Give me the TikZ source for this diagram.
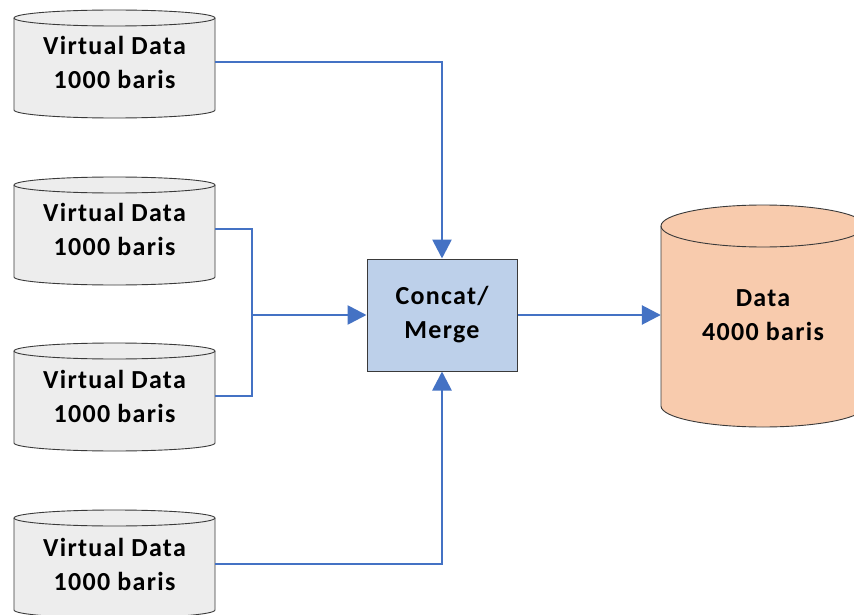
\documentclass[tikz,border=0pt]{standalone}
\usepackage{fontspec}
\setmainfont{Carlito}
\usetikzlibrary{arrows.meta}
\definecolor{flowblue}{HTML}{4472C4}
\definecolor{drumgray}{HTML}{EDEDED}
\definecolor{mergefill}{HTML}{BDD0EA}
\definecolor{resultfill}{HTML}{F8CBAD}
\definecolor{edgegray}{HTML}{3A3A3A}

% \drumbody{cx}{top centre y}{bottom centre y}{rx}{ry}{fill}
\newcommand\drumbody[6]{%
  \filldraw[fill=#6, draw=edgegray, line width=0.9pt]
    (#1-#4,#2) -- (#1-#4,#3)
    arc[start angle=180, end angle=0, x radius=#4, y radius=#5]
    -- (#1+#4,#2)
    arc[start angle=0, end angle=-180, x radius=#4, y radius=#5] -- cycle;
  \draw[draw=edgegray, line width=0.9pt]
    (#1-#4,#2) arc[start angle=180, end angle=0, x radius=#4, y radius=#5];
}

\begin{document}
\begin{tikzpicture}[x=1pt, y=-1pt,
  lbl/.style={font=\fontsize{26}{34}\selectfont\bfseries\addfontfeatures{LetterSpace=5},
              align=center, inner sep=0pt, text=black},
  drum/.style={lbl, minimum width=201pt, minimum height=92pt},
  bigdrum/.style={lbl, minimum width=204pt, minimum height=180pt},
  mergebox/.style={lbl, draw=edgegray, line width=1pt, fill=mergefill,
                   minimum width=150pt, minimum height=112pt},
  link/.style={draw=flowblue, line width=2.7pt},
  flow/.style={link, -{Triangle[length=19pt, width=19pt]}}]
\useasboundingbox (0,0) rectangle (854,615);
\clip (0,0) rectangle (854,615);
\fill[white] (0,0) rectangle (854,615);

% cylinder bodies
\drumbody{114.5}{18}{110}{100.5}{8}{drumgray}
\drumbody{114.5}{185}{277}{100.5}{8}{drumgray}
\drumbody{114.5}{351}{443}{100.5}{8}{drumgray}
\drumbody{114.5}{518}{610}{100.5}{8}{drumgray}
\drumbody{763}{226}{406}{102}{21}{resultfill}

% labels / anchors
\node[drum] (v1) at (114.5,62) {Virtual Data\\1000 baris};
\node[drum] (v2) at (114.5,229) {Virtual Data\\1000 baris};
\node[drum] (v3) at (114.5,396) {Virtual Data\\1000 baris};
\node[drum] (v4) at (114.5,564) {Virtual Data\\1000 baris};
\node[mergebox] (mg) at (442,315) {Concat/\\Merge};
\node[bigdrum] (big) at (763,315) {Data\\4000 baris};

% connectors
\coordinate (jn) at (252,315);
\draw[flow] (v1.east) -| (mg.north);
\draw[link] (v2.east) -| (jn);
\draw[link] (v3.east) -| (jn);
\draw[flow] (jn) -- (mg.west);
\draw[flow] (v4.east) -| (mg.south);
\draw[flow] (mg.east) -- (big.west);
\end{tikzpicture}
\end{document}
